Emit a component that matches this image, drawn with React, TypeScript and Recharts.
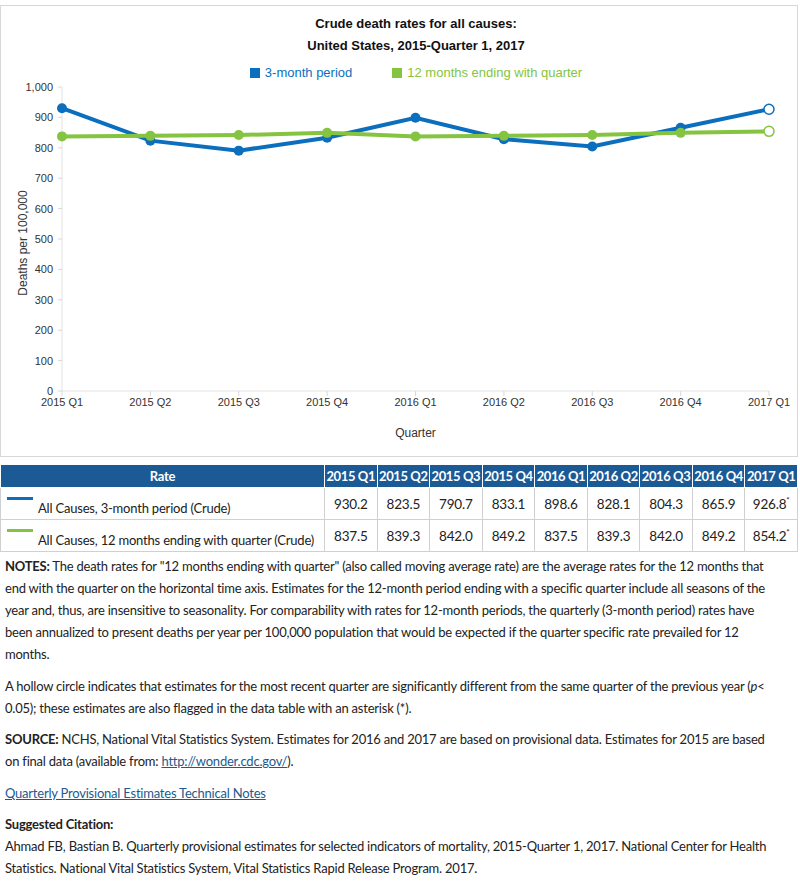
import React from "react"
import { LineChart, Line, XAxis, YAxis } from "recharts"

// Taux bruts de mortalité toutes causes, 2015 T1 – 2017 T1

if (typeof document !== "undefined") document.body.style.margin = "0"

const quarters = [
  "2015 Q1",
  "2015 Q2",
  "2015 Q3",
  "2015 Q4",
  "2016 Q1",
  "2016 Q2",
  "2016 Q3",
  "2016 Q4",
  "2017 Q1",
]
const threeMonth = [930.2, 823.5, 790.7, 833.1, 898.6, 828.1, 804.3, 865.9, 926.8]
const twelveMonth = [837.5, 839.3, 842.0, 849.2, 837.5, 839.3, 842.0, 849.2, 854.2]
// dernier trimestre significativement différent (cercle creux + astérisque)
const flagged = [false, false, false, false, false, false, false, false, true]
const yTicks = [0, 100, 200, 300, 400, 500, 600, 700, 800, 900, 1000]

const BLUE = "#0b6fbe"
const GREEN = "#84c441"
const HEADER = "#1c5a96"

const data = quarters.map((q, i) => ({
  quarter: q,
  threeMonth: threeMonth[i],
  twelveMonth: twelveMonth[i],
  flagged: flagged[i],
}))

const chartFont = "'Liberation Sans', Arial, sans-serif"
const pageFont = "Lato, 'Open Sans', sans-serif"

function makeDot(color: string) {
  return (props: any) => {
    const { cx, cy, payload, index } = props
    if (cx == null || cy == null) return null
    if (payload.flagged) {
      return (
        <circle key={index} cx={cx} cy={cy} r={5} fill="#fff" stroke={color} strokeWidth={1.5} />
      )
    }
    return <circle key={index} cx={cx} cy={cy} r={5} fill={color} stroke="none" />
  }
}

function ChartLegend() {
  const items = [
    { label: "3-month period", color: BLUE },
    { label: "12 months ending with quarter", color: GREEN },
  ]
  return (
    <div
      style={{
        position: "absolute",
        top: 59,
        left: 0,
        width: 830,
        display: "flex",
        justifyContent: "center",
        gap: 40,
        fontFamily: chartFont,
        fontSize: 13,
        lineHeight: "16px",
      }}
    >
      {items.map((it) => (
        <div key={it.label} style={{ display: "flex", alignItems: "center", color: it.color }}>
          <span
            style={{
              display: "inline-block",
              width: 10,
              height: 10,
              background: it.color,
              marginRight: 5,
            }}
          />
          {it.label}
        </div>
      ))}
    </div>
  )
}

const fmt = (v: number) => v.toLocaleString("en-US")

const cellBorder = "1px solid #d0d0d0"

function DataTable() {
  const rows = [
    { label: "All Causes, 3-month period (Crude)", color: BLUE, values: threeMonth },
    { label: "All Causes, 12 months ending with quarter (Crude)", color: GREEN, values: twelveMonth },
  ]
  return (
    <table
      style={{
        position: "absolute",
        top: 464,
        left: 0,
        width: 798,
        borderCollapse: "collapse",
        fontFamily: pageFont,
        fontSize: 13,
        letterSpacing: -0.2,
        color: "#222",
        tableLayout: "fixed",
      }}
    >
      <colgroup>
        <col style={{ width: 324 }} />
        {quarters.map((q) => (
          <col key={q} />
        ))}
      </colgroup>
      <thead>
        <tr style={{ background: HEADER, color: "#fff", height: 23 }}>
          <th style={{ fontWeight: 700, border: "1px solid #fff", padding: 0 }}>Rate</th>
          {quarters.map((q) => (
            <th
              key={q}
              style={{
                fontWeight: 700,
                border: "1px solid #fff",
                padding: 0,
                whiteSpace: "nowrap",
                letterSpacing: -0.4,
              }}
            >
              {q}
            </th>
          ))}
        </tr>
      </thead>
      <tbody>
        {rows.map((r) => (
          <tr key={r.label} style={{ height: 32 }}>
            <td style={{ border: cellBorder, padding: 0, position: "relative" }}>
              <span
                style={{
                  position: "absolute",
                  left: 6,
                  top: 9,
                  width: 26,
                  height: 3,
                  background: r.color,
                }}
              />
              <span
                style={{
                  display: "block",
                  paddingLeft: 37,
                  paddingTop: 9,
                  fontSize: 13,
                  whiteSpace: "nowrap",
                  lineHeight: "18px",
                }}
              >
                {r.label}
              </span>
            </td>
            {r.values.map((v, i) => (
              <td
                key={i}
                style={{ border: cellBorder, textAlign: "center", padding: 0, fontSize: 13.5 }}
              >
                {v.toFixed(1)}
                {flagged[i] ? <sup style={{ fontSize: 8 }}>*</sup> : null}
              </td>
            ))}
          </tr>
        ))}
      </tbody>
    </table>
  )
}

function Notes() {
  const p: React.CSSProperties = { margin: "0 0 9.5px 0" }
  const link: React.CSSProperties = { color: "#1d5a8e", textDecoration: "underline" }
  return (
    <div
      style={{
        position: "absolute",
        top: 555,
        left: 5,
        width: 775,
        fontFamily: pageFont,
        fontSize: 13,
        letterSpacing: -0.22,
        lineHeight: "22px",
        color: "#222",
      }}
    >
      <p style={p}>
        <b>NOTES:</b> The death rates for "12 months ending with quarter" (also called moving average
        rate) are the average rates for the 12 months that end with the quarter on the horizontal
        time axis. Estimates for the 12-month period ending with a specific quarter include all
        seasons of the year and, thus, are insensitive to seasonality. For comparability with rates
        for 12-month periods, the quarterly (3-month period) rates have been annualized to present
        deaths per year per 100,000 population that would be expected if the quarter specific rate
        prevailed for 12 months.
      </p>
      <p style={p}>
        A hollow circle indicates that estimates for the most recent quarter are significantly
        different from the same quarter of the previous year (<i>p</i>&lt; 0.05); these estimates
        are also flagged in the data table with an asterisk (*).
      </p>
      <p style={p}>
        <b>SOURCE:</b> NCHS, National Vital Statistics System. Estimates for 2016 and 2017 are based
        on provisional data. Estimates for 2015 are based on final data (available from:{" "}
        <span style={link}>http://wonder.cdc.gov/</span>).
      </p>
      <p style={p}>
        <span style={link}>Quarterly Provisional Estimates Technical Notes</span>
      </p>
      <p style={{ margin: 0 }}>
        <b>Suggested Citation:</b>
        <br />
        Ahmad FB, Bastian B. Quarterly provisional estimates for selected indicators of mortality,
        2015-Quarter 1, 2017. National Center for Health Statistics. National Vital Statistics
        System, Vital Statistics Rapid Release Program. 2017.
      </p>
    </div>
  )
}

export default function App() {
  return (
    <div style={{ position: "relative", width: 800, height: 894, background: "#fff" }}>
      <div
        style={{
          position: "absolute",
          top: 5,
          left: 0,
          width: 796,
          height: 450,
          border: "1px solid #d8d8d8",
        }}
      >
        <div
          style={{
            position: "absolute",
            top: 7,
            left: 0,
            width: 830,
            textAlign: "center",
            fontFamily: chartFont,
            fontWeight: 700,
            fontSize: 13,
            lineHeight: "22px",
            color: "#111",
          }}
        >
          Crude death rates for all causes:
          <br />
          United States, 2015-Quarter 1, 2017
        </div>
        <ChartLegend />
        <div
          style={{
            position: "absolute",
            left: 22,
            top: 237,
            transform: "translate(-50%, -50%) rotate(-90deg)",
            whiteSpace: "nowrap",
            fontFamily: chartFont,
            fontSize: 12,
            color: "#333",
          }}
        >
          Deaths per 100,000
        </div>
        <LineChart
          width={796}
          height={450}
          data={data}
          margin={{ top: 81, right: 28, bottom: 0, left: 0 }}
        >
          <XAxis
            dataKey="quarter"
            height={65}
            tick={{ fontSize: 11, fill: "#333", fontFamily: chartFont }}
            stroke="#e2e2e2"
            tickLine={{ stroke: "#d8d8d8" }}
            tickSize={5}
            interval={0}
            label={{
              value: "Quarter",
              position: "insideBottom",
              offset: 19,
              fontSize: 12,
              fill: "#333",
              fontFamily: chartFont,
            }}
          />
          <YAxis
            width={61}
            domain={[0, 1000]}
            ticks={yTicks}
            tickFormatter={fmt}
            tick={{ fontSize: 11, fill: "#333", fontFamily: chartFont }}
            stroke="#e2e2e2"
            tickLine={{ stroke: "#d8d8d8" }}
            tickSize={4}
            tickMargin={5}
            interval={0}
          />
          <Line
            type="linear"
            dataKey="threeMonth"
            name="3-month period"
            stroke={BLUE}
            strokeWidth={4}
            dot={makeDot(BLUE)}
            activeDot={false}
            isAnimationActive={false}
          />
          <Line
            type="linear"
            dataKey="twelveMonth"
            name="12 months ending with quarter"
            stroke={GREEN}
            strokeWidth={4}
            dot={makeDot(GREEN)}
            activeDot={false}
            isAnimationActive={false}
          />
        </LineChart>
      </div>
      <DataTable />
      <Notes />
    </div>
  )
}
